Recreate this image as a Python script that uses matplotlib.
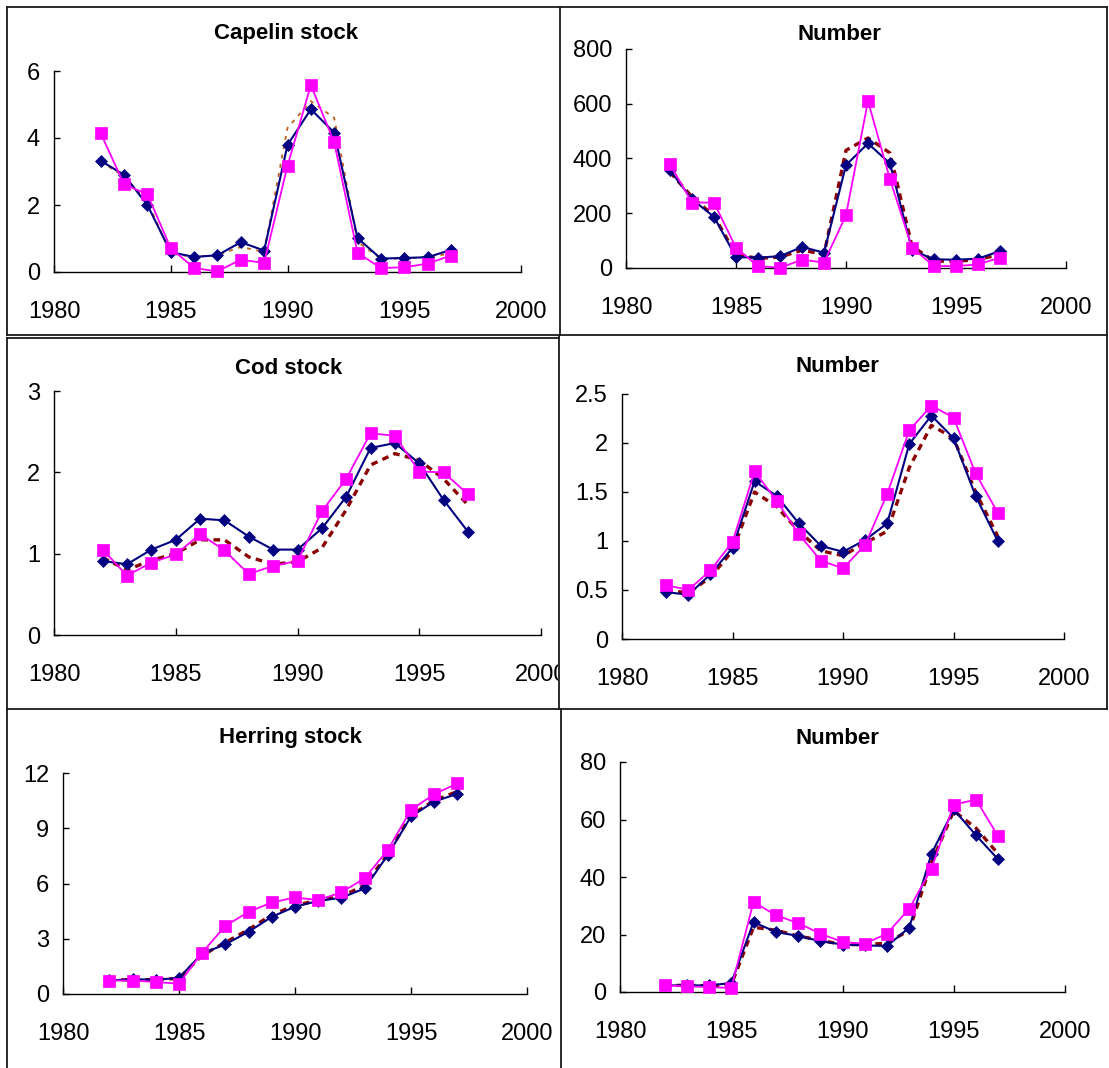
import matplotlib
matplotlib.use("Agg")
import matplotlib.pyplot as plt
from matplotlib.lines import Line2D
from matplotlib.transforms import Bbox

# Years on the x axis
years = [1982, 1983, 1984, 1985, 1986, 1987, 1988, 1989,
         1990, 1991, 1992, 1993, 1994, 1995, 1996, 1997]
x_ticks = [1980, 1985, 1990, 1995, 2000]

# Capelin stock
cap_stock_blue = [3.32, 2.9, 2.0, 0.59, 0.45, 0.5, 0.89, 0.64, 3.79, 4.86, 4.16, 1.01, 0.40, 0.42, 0.44, 0.66]
cap_stock_pink = [4.14, 2.62, 2.32, 0.71, 0.12, 0.02, 0.37, 0.27, 3.17, 5.58, 3.87, 0.57, 0.12, 0.14, 0.25, 0.49]
cap_stock_dash = [3.3, 2.85, 2.1, 0.55, 0.45, 0.5, 0.75, 0.6, 4.3, 5.1, 4.6, 0.9, 0.4, 0.4, 0.45, 0.55]

# Capelin number
cap_num_blue = [357, 251, 187, 40, 38, 43, 77, 56, 376, 455, 382, 65, 32, 30, 34, 62]
cap_num_pink = [379, 239, 239, 74, 7, 1, 30, 20, 193, 610, 324, 74, 7, 7, 13, 38]
cap_num_dash = [350, 260, 190, 50, 35, 40, 65, 50, 430, 475, 420, 80, 25, 25, 30, 50]

# Cod stock
cod_stock_blue = [0.91, 0.87, 1.05, 1.17, 1.43, 1.41, 1.21, 1.05, 1.05, 1.31, 1.70, 2.30, 2.36, 2.11, 1.66, 1.27]
cod_stock_pink = [1.05, 0.73, 0.89, 0.99, 1.24, 1.04, 0.75, 0.85, 0.91, 1.52, 1.92, 2.48, 2.45, 2.01, 2.0, 1.73]
cod_stock_dash = [0.95, 0.8, 0.92, 1.0, 1.17, 1.17, 0.96, 0.87, 0.9, 1.07, 1.54, 2.09, 2.23, 2.15, 1.92, 1.6]

# Cod number
cod_num_blue = [0.48, 0.45, 0.66, 0.93, 1.61, 1.46, 1.18, 0.95, 0.89, 1.01, 1.18, 1.99, 2.28, 2.05, 1.46, 1.0]
cod_num_pink = [0.55, 0.50, 0.70, 0.99, 1.71, 1.41, 1.07, 0.80, 0.72, 0.96, 1.48, 2.13, 2.38, 2.26, 1.69, 1.29]
cod_num_dash = [0.5, 0.47, 0.63, 0.9, 1.5, 1.35, 1.1, 0.9, 0.85, 0.98, 1.1, 1.75, 2.18, 2.05, 1.5, 1.05]

# Herring stock
her_stock_blue = [0.74, 0.8, 0.78, 0.87, 2.2, 2.7, 3.38, 4.19, 4.74, 5.05, 5.23, 5.73, 7.55, 9.64, 10.45, 10.87]
her_stock_pink = [0.73, 0.73, 0.65, 0.56, 2.25, 3.70, 4.46, 4.97, 5.24, 5.1, 5.52, 6.28, 7.82, 10.0, 10.85, 11.43]
her_stock_dash = [0.75, 0.78, 0.78, 0.85, 2.1, 2.8, 3.5, 4.3, 4.8, 5.1, 5.3, 5.9, 7.6, 9.7, 10.5, 11.0]

# Herring number
her_num_blue = [2.3, 2.3, 2.3, 3.1, 24.3, 20.9, 19.5, 17.7, 16.5, 16.2, 16.0, 22.4, 48.1, 63.5, 54.5, 46.1]
her_num_pink = [2.3, 2.0, 1.7, 1.4, 31.3, 26.7, 24.0, 20.3, 17.4, 16.8, 20.3, 29.0, 42.9, 65.2, 66.9, 54.1]
her_num_dash = [2.3, 2.3, 2.2, 2.5, 22.5, 21.5, 19.5, 18, 16.5, 16.5, 17, 21.5, 45, 63, 57, 48]

# y ticks per panel
cap_stock_ticks = [0, 2, 4, 6]
cap_num_ticks = [0, 200, 400, 600, 800]
cod_stock_ticks = [0, 1, 2, 3]
cod_num_ticks = [0, 0.5, 1, 1.5, 2, 2.5]
cod_num_labels = ["0", "0.5", "1", "1.5", "2", "2.5"]
her_stock_ticks = [0, 3, 6, 9, 12]
her_num_ticks = [0, 20, 40, 60, 80]

W, H = 1109, 1068
fig = plt.figure(figsize=(W / 100, H / 100), dpi=100)
fig.patch.set_facecolor("white")

FONT = ["Liberation Sans", "Arial", "DejaVu Sans"]


def add_panel(left, right, top, bottom):
    # pixel box -> figure fraction
    return fig.add_axes([left / W, 1 - bottom / H, (right - left) / W, (bottom - top) / H])


def draw_panel(ax, blue, pink, dash, yticks, ylabels, title, title_x, title_y, dotted=False):
    if dotted:
        ax.plot(years, dash, color="#C0601E", lw=1.3, dashes=(2.2, 3.0), zorder=2, clip_on=False)
    else:
        ax.plot(years, dash, color="#8B0000", lw=2.4, dashes=(2.0, 1.6), zorder=2, clip_on=False)
    ax.plot(years, blue, color="#000080", lw=1.5, marker="D", markersize=6.5,
            markeredgewidth=0.5, zorder=3, clip_on=False)
    ax.plot(years, pink, color="#FF00FF", lw=1.3, marker="s", markersize=8.5,
            markeredgewidth=0.5, zorder=4, clip_on=False)

    ax.set_xlim(1980, 2000)
    ax.set_ylim(yticks[0], yticks[-1])
    ax.set_xticks(x_ticks)
    ax.set_xticklabels([str(t) for t in x_ticks])
    ax.set_yticks(yticks)
    ax.set_yticklabels(ylabels)

    for s in ["top", "right"]:
        ax.spines[s].set_visible(False)
    for s in ["left", "bottom"]:
        ax.spines[s].set_linewidth(1.0)
        ax.spines[s].set_color("black")
    ax.tick_params(axis="x", direction="in", length=5, width=1, pad=21, labelsize=17)
    ax.tick_params(axis="y", direction="in", length=4, width=1, pad=10, labelsize=17)
    for lab in ax.get_xticklabels() + ax.get_yticklabels():
        lab.set_family(FONT)
    ax.patch.set_alpha(0)

    fig.text(title_x / W, 1 - title_y / H, title, ha="center", va="center",
             fontsize=16, fontweight="bold", family=FONT)


# Panels
ax1 = add_panel(54, 521, 71, 272)
draw_panel(ax1, cap_stock_blue, cap_stock_pink, cap_stock_dash, cap_stock_ticks,
           [str(t) for t in cap_stock_ticks], "Capelin stock", 286, 33, dotted=True)

ax2 = add_panel(626, 1066, 49, 268)
draw_panel(ax2, cap_num_blue, cap_num_pink, cap_num_dash, cap_num_ticks,
           [str(t) for t in cap_num_ticks], "Number", 839, 35)

ax3 = add_panel(54, 541, 391, 635)
draw_panel(ax3, cod_stock_blue, cod_stock_pink, cod_stock_dash, cod_stock_ticks,
           [str(t) for t in cod_stock_ticks], "Cod stock", 289, 368)
# the 2000 label of the cod panel is cut by the neighbouring frame
for lab in ax3.get_xticklabels():
    lab.set_clip_box(Bbox.from_extents(0, 0, 558, H))
    lab.set_clip_on(True)

ax4 = add_panel(622, 1064, 394, 639)
draw_panel(ax4, cod_num_blue, cod_num_pink, cod_num_dash, cod_num_ticks,
           cod_num_labels, "Number", 837, 366)

ax5 = add_panel(63, 527, 773, 994)
draw_panel(ax5, her_stock_blue, her_stock_pink, her_stock_dash, her_stock_ticks,
           [str(t) for t in her_stock_ticks], "Herring stock", 290, 738)

ax6 = add_panel(620, 1065, 762, 992)
draw_panel(ax6, her_num_blue, her_num_pink, her_num_dash, her_num_ticks,
           [str(t) for t in her_num_ticks], "Number", 837, 738)


# Panel frames (pixel coordinates)
def frame_line(x0, y0, x1, y1):
    fig.add_artist(Line2D([x0 / W, x1 / W], [1 - y0 / H, 1 - y1 / H],
                          color="#1a1a1a", lw=1.3, zorder=10))


frame_line(7, 7, 1107, 7)
frame_line(7, 7, 7, 335)
frame_line(560, 7, 560, 335)
frame_line(1107, 7, 1107, 335)
frame_line(7, 335, 1107, 335)
frame_line(7, 338, 559, 338)
frame_line(7, 338, 7, 709)
frame_line(559, 336, 559, 709)
frame_line(1107, 336, 1107, 709)
frame_line(7, 709, 1107, 709)
frame_line(7, 709, 7, 1068)
frame_line(561, 709, 561, 1068)

fig.savefig("out.png", dpi=100, facecolor="white")
